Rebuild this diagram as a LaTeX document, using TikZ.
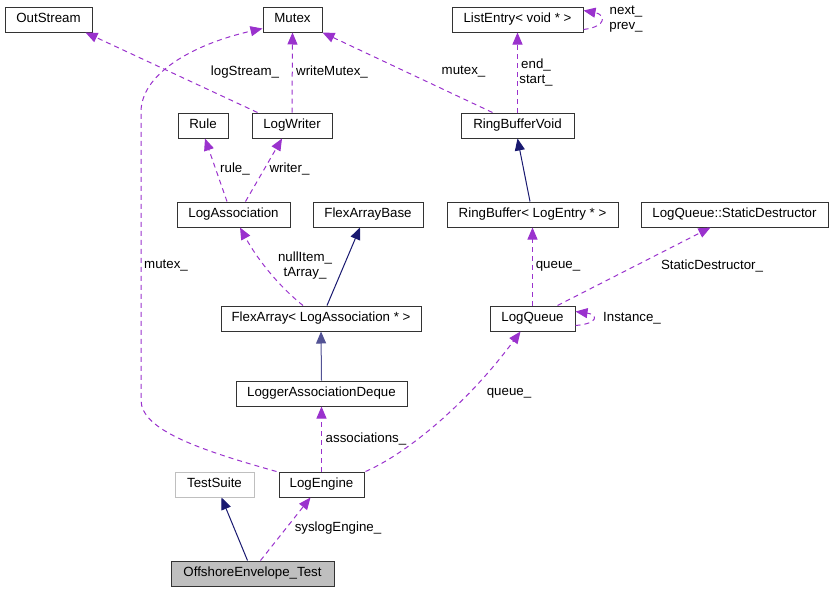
\documentclass[tikz,border=0pt]{standalone}
\usepackage{fontspec}
\setmainfont{Liberation Sans}
\usetikzlibrary{arrows.meta}
\definecolor{usecol}{HTML}{9A32CD}
\definecolor{isacol}{HTML}{191970}

\begin{document}
\begin{tikzpicture}[x=1pt,y=-1pt,font=\fontsize{13.3}{15}\selectfont,
  cls/.style={draw=black!80,line width=1pt,fill=white,minimum height=25pt,inner xsep=4pt,inner ysep=0pt,text height=9.6pt,text depth=2.7pt},
  use/.style={draw=usecol,line width=1pt,dash pattern=on 5pt off 4pt,-{Triangle[length=12pt,width=10pt]}},
  isa/.style={draw=isacol,line width=1pt,-{Triangle[length=12pt,width=10pt]}},
  lbl/.style={align=center,inner sep=0pt}]
\useasboundingbox (0,0) rectangle (834,592);
\node[cls,minimum width=87pt] (outstream) at (48.5,19.5) {OutStream};
\node[cls,minimum width=59pt] (mutex) at (292.5,19.5) {Mutex};
\node[cls,minimum width=131pt] (listentry) at (517.5,19.5) {ListEntry< void * >};
\node[cls,minimum width=50pt] (rule) at (203,125.5) {Rule};
\node[cls,minimum width=80pt] (logwriter) at (292,125.5) {LogWriter};
\node[cls,minimum width=113pt] (rbvoid) at (517.5,125.5) {RingBufferVoid};
\node[cls,minimum width=113pt] (logassoc) at (233.5,214.5) {LogAssociation};
\node[cls,minimum width=110pt] (flexbase) at (368,214.5) {FlexArrayBase};
\node[cls,minimum width=171pt] (ringbuf) at (532.5,214.5) {RingBuffer< LogEntry * >};
\node[cls,minimum width=187pt] (staticdtor) at (734.5,214.5) {LogQueue::StaticDestructor};
\node[cls,minimum width=200pt] (flexarray) at (321,318.5) {FlexArray< LogAssociation * >};
\node[cls,minimum width=85pt] (logqueue) at (532.5,318.5) {LogQueue};
\node[cls,minimum width=171pt] (assocdeque) at (321.5,393.5) {LoggerAssociationDeque};
\node[cls,minimum width=79pt,draw=black!25] (testsuite) at (214.5,484.5) {TestSuite};
\node[cls,minimum width=85pt] (logengine) at (321.5,484.5) {LogEngine};
\node[cls,minimum width=163pt,fill=black!25] (offtest) at (252.5,573.5) {OffshoreEnvelope\_Test};
% members
\draw[use] ([xshift=6pt]logwriter.north west) -- ([xshift=-7pt]outstream.south east);
\draw[use] (logwriter.north) -- (mutex.south);
\draw[use] ([xshift=32pt]rbvoid.north west) -- (mutex.south east);
\draw[use] (rbvoid.north) -- (listentry.south);
\draw[use] ([yshift=3pt]listentry.south east) .. controls +(24,-3) and +(22,4) .. ([yshift=-4pt]listentry.north east);
\draw[use] ([xshift=-6.5pt]logassoc.north) -- ([xshift=2pt]rule.south);
\draw[use] ([xshift=12pt]logassoc.north) -- ([xshift=-10pt]logwriter.south);
\draw[use] ([xshift=-18pt]flexarray.north) .. controls (275,283) and (255,255) .. ([xshift=6.5pt]logassoc.south);
\draw[use] (logqueue.north) -- (ringbuf.south);
\draw[use] ([xshift=25pt]logqueue.north) -- ([xshift=-24pt]staticdtor.south);
\draw[use] ([yshift=6pt]logqueue.south east) .. controls +(24,-2) and +(22,3) .. ([yshift=-6pt]logqueue.north east);
\draw[use] (logengine.north) -- (assocdeque.south);
\draw[use] ([xshift=1pt]logengine.north east) .. controls (410,452) and (470,400) .. ([xshift=-12pt]logqueue.south);
\draw[use] ([xshift=-2pt]logengine.north west) .. controls (200,450) and (141,430) .. (141,400) -- (141,112) .. controls (141,75) and (190,45) .. ([yshift=4pt]mutex.south west);
\draw[use] ([xshift=8pt]offtest.north) -- ([xshift=-11pt]logengine.south);
% base classes
\draw[isa] ([xshift=-2.5pt]ringbuf.north) -- (rbvoid.south);
\draw[isa] ([xshift=6pt]flexarray.north) -- ([xshift=-8pt]flexbase.south);
\draw[isa,draw=isacol!75] (assocdeque.north) -- (flexarray.south);
\draw[isa] ([xshift=-5pt]offtest.north) -- ([xshift=7pt]testsuite.south);
% labels
\node[lbl] (lbllogstream) at (245,72) {logStream\_};
\node[lbl] (lblwritemutex) at (332,72) {writeMutex\_};
\node[lbl] (lblmutexa) at (463.5,72) {mutex\_};
\node[lbl] (lblend) at (536,72.5) {end\_\\start\_};
\node[lbl] (lblnext) at (626,19.5) {next\_\\prev\_};
\node[lbl] (lblrule) at (235,169) {rule\_};
\node[lbl] (lblwriter) at (289.5,169) {writer\_};
\node[lbl] (lblnull) at (305,265.5) {nullItem\_\\tArray\_};
\node[lbl] (lblmutexb) at (166,266) {mutex\_};
\node[lbl] (lblqueuea) at (558,266) {queue\_};
\node[lbl] (lbldtor) at (712,266) {StaticDestructor\_};
\node[lbl] (lblinst) at (632,318) {Instance\_};
\node[lbl] (lblassoc) at (366,439) {associations\_};
\node[lbl] (lblqueueb) at (509,393) {queue\_};
\node[lbl] (lblsyslog) at (338,528) {syslogEngine\_};
\end{tikzpicture}
\end{document}
